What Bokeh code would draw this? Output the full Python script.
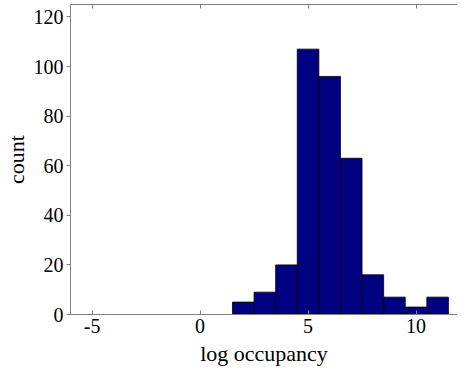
from bokeh.plotting import figure
from bokeh.models import Range1d, LinearAxis, FixedTicker
from bokeh.embed import file_html
from bokeh.resources import INLINE

bin_centers = [2, 3, 4, 5, 6, 7, 8, 9, 10, 11]
counts = [5, 9, 20, 107, 96, 63, 16, 7, 3, 7]
x_ticks = [-5, 0, 5, 10]
x_tick_labels = ["-5", "0", "5", "10"]
y_ticks = [0, 20, 40, 60, 80, 100, 120]

FONT = "Liberation Serif"
AX = "#808080"

p = figure(width=457, height=368, x_range=Range1d(-6, 11.92), y_range=Range1d(0, 125),
           output_backend="svg", toolbar_location=None,
           min_border_left=70, min_border_right=0, min_border_top=4, min_border_bottom=53)
p.outline_line_color = None
p.xgrid.visible = False
p.ygrid.visible = False
p.background_fill_color = "white"
p.border_fill_color = "white"

p.vbar(x=bin_centers, top=counts, width=1.0, bottom=0,
       fill_color="#000080", line_color="black", line_width=0.8)

xa = p.xaxis[0]
xa.ticker = FixedTicker(ticks=x_ticks)
xa.major_label_overrides = {t: s for t, s in zip(x_ticks, x_tick_labels)}
xa.minor_tick_line_color = None
xa.major_tick_in = 4
xa.major_tick_out = 0
xa.axis_line_color = AX
xa.major_tick_line_color = AX
xa.major_label_text_font = FONT
xa.major_label_text_font_size = "20px"
xa.major_label_text_color = "black"
xa.major_label_standoff = 4
xa.axis_label = "log occupancy"
xa.axis_label_text_font = FONT
xa.axis_label_text_font_size = "22px"
xa.axis_label_text_font_style = "normal"
xa.axis_label_text_color = "black"
xa.axis_label_standoff = 5

ya = p.yaxis[0]
ya.ticker = FixedTicker(ticks=y_ticks)
ya.minor_tick_line_color = None
ya.major_tick_in = 0
ya.major_tick_out = 4
ya.axis_line_color = AX
ya.major_tick_line_color = AX
ya.major_label_text_font = FONT
ya.major_label_text_font_size = "20px"
ya.major_label_text_color = "black"
ya.major_label_standoff = 3
ya.axis_label = "count"
ya.axis_label_text_font = FONT
ya.axis_label_text_font_size = "22px"
ya.axis_label_text_font_style = "normal"
ya.axis_label_text_color = "black"
ya.axis_label_standoff = 2

top = LinearAxis(ticker=FixedTicker(ticks=x_ticks))
top.minor_tick_line_color = None
top.major_tick_in = 4
top.major_tick_out = 0
top.axis_line_color = AX
top.major_tick_line_color = AX
top.major_label_text_font_size = "0px"
top.major_label_standoff = 0
top.major_label_text_alpha = 0
p.add_layout(top, "above")

open("out.html", "w").write(file_html(p, INLINE))
